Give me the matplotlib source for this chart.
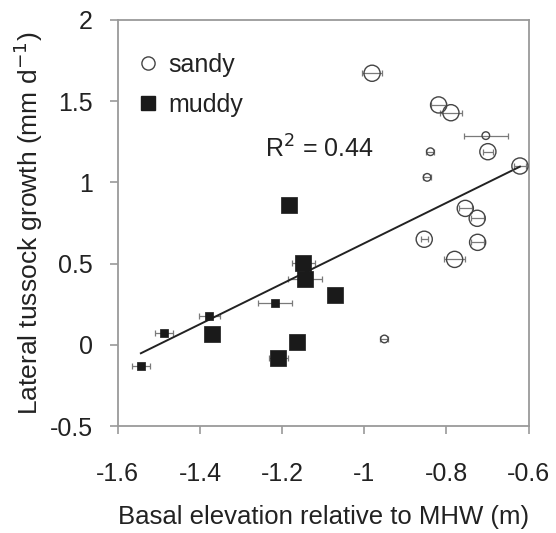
import numpy as np
import matplotlib
matplotlib.use("Agg")
import matplotlib.pyplot as plt
from matplotlib.lines import Line2D

plt.rcParams['font.family'] = ['Liberation Sans', 'DejaVu Sans']
plt.rcParams['axes.unicode_minus'] = False

# sandy sites (open circles)
sandy_x = [-0.981, -0.819, -0.789, -0.704, -0.699, -0.839, -0.621, -0.847,
           -0.754, -0.725, -0.854, -0.724, -0.780, -0.951]
sandy_y = [1.672, 1.477, 1.429, 1.288, 1.189, 1.189, 1.101, 1.031,
           0.840, 0.779, 0.650, 0.631, 0.526, 0.036]
sandy_xerr = [0.024, 0.018, 0.026, 0.053, 0.012, 0.010, 0.015, 0.010,
              0.016, 0.016, 0.008, 0.016, 0.026, 0.010]
sandy_big = [1, 1, 1, 0, 1, 0, 1, 0, 1, 1, 1, 1, 1, 0]

# muddy sites (filled squares)
muddy_x = [-1.183, -1.148, -1.144, -1.071, -1.217, -1.377, -1.488, -1.370,
           -1.164, -1.209, -1.544]
muddy_y = [0.861, 0.506, 0.405, 0.307, 0.256, 0.179, 0.075, 0.065,
           0.015, -0.083, -0.131]
muddy_xerr = [0.0, 0.028, 0.041, 0.0, 0.042, 0.026, 0.022, 0.015,
              0.0, 0.024, 0.022]
muddy_big = [1, 1, 1, 1, 0, 0, 0, 1, 1, 1, 0]

# regression line endpoints
fit_x = [-1.544, -0.621]
fit_y = [-0.052, 1.097]

x_ticks = [-1.6, -1.4, -1.2, -1.0, -0.8, -0.6]
x_ticklabels = ['-1.6', '-1.4', '-1.2', '-1', '-0.8', '-0.6']
y_ticks = [-0.5, 0, 0.5, 1, 1.5, 2]
y_ticklabels = ['-0.5', '0', '0.5', '1', '1.5', '2']

fig = plt.figure(figsize=(5.56, 5.33), dpi=100)
ax = fig.add_axes([0.212, 0.2007, 0.9506 - 0.212, 0.9625 - 0.2007])

spine_col = '#9a9a9a'
err_col = '#7a7a7a'
txt_col = '#222222'

# error bars
ax.errorbar(sandy_x, sandy_y, xerr=sandy_xerr, fmt='none', ecolor=err_col,
            elinewidth=0.9, capsize=2.5, capthick=0.9, zorder=2)
ax.errorbar(muddy_x, muddy_y, xerr=muddy_xerr, fmt='none', ecolor=err_col,
            elinewidth=0.9, capsize=2.5, capthick=0.9, zorder=2)

# regression line
ax.plot(fit_x, fit_y, color='#222222', lw=1.4, zorder=3)

sx = np.array(sandy_x); sy = np.array(sandy_y); sb = np.array(sandy_big, bool)
mx = np.array(muddy_x); my = np.array(muddy_y); mb = np.array(muddy_big, bool)

ax.scatter(sx[sb], sy[sb], s=135, marker='o', facecolors='none',
           edgecolors='#444444', linewidths=1.0, zorder=4)
ax.scatter(sx[~sb], sy[~sb], s=30, marker='o', facecolors='none',
           edgecolors='#444444', linewidths=1.0, zorder=4)
ax.scatter(mx[mb], my[mb], s=120, marker='s', facecolors='#1a1a1a',
           edgecolors='#1a1a1a', linewidths=0.5, zorder=4)
ax.scatter(mx[~mb], my[~mb], s=38, marker='s', facecolors='#1a1a1a',
           edgecolors='#1a1a1a', linewidths=0.5, zorder=4)

ax.set_xlim(-1.6, -0.6)
ax.set_ylim(-0.5, 2)
ax.set_xticks(x_ticks)
ax.set_xticklabels(x_ticklabels)
ax.set_yticks(y_ticks)
ax.set_yticklabels(y_ticklabels)

for sp in ax.spines.values():
    sp.set_color(spine_col)
    sp.set_linewidth(1.3)
ax.tick_params(axis='both', direction='out', length=6, width=1.2,
               color=spine_col, labelsize=18, labelcolor=txt_col)
ax.tick_params(axis='x', pad=20)
ax.tick_params(axis='y', pad=12)

ax.set_xlabel('Basal elevation relative to MHW (m)', fontsize=18.5,
              color=txt_col)
ax.xaxis.set_label_coords(0.5, -0.195)
ax.set_ylabel('Lateral tussock growth (mm d$^{\\mathrm{-1}}$)', fontsize=19,
              color=txt_col)
ax.yaxis.set_label_coords(-0.178, 0.5)

ax.text(-1.241, 1.205, 'R$^2$ = 0.44', fontsize=18, color=txt_col,
        ha='left', va='center')

handles = [
    Line2D([], [], marker='o', ls='none', markersize=9.5,
           markerfacecolor='none', markeredgecolor='#444444', markeredgewidth=1.0),
    Line2D([], [], marker='s', ls='none', markersize=9.5,
           markerfacecolor='#1a1a1a', markeredgecolor='#1a1a1a'),
]
ax.legend(handles, ['sandy', 'muddy'], loc='upper left', frameon=False,
          fontsize=18, handletextpad=0.2, borderaxespad=0.3,
          bbox_to_anchor=(-0.005, 0.963),
          labelspacing=0.65, handlelength=1.2, labelcolor=txt_col)

fig.savefig('out.png', dpi=100)
